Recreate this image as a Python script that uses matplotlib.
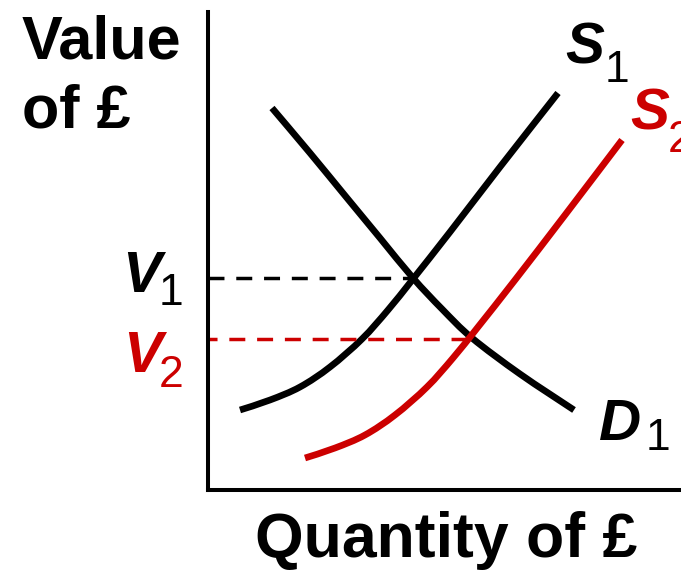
import matplotlib
matplotlib.use("Agg")
import matplotlib.pyplot as plt
from matplotlib.path import Path
from matplotlib.patches import PathPatch

plt.rcParams['font.family'] = ['Liberation Sans', 'DejaVu Sans']

W, H = 681, 574
# Curve points (x: quantity, y: value), axis units
d1_x = [64, 102, 139, 172, 205, 234, 264, 312, 366]
d1_y = [382, 337, 292, 252, 212, 181, 152, 116, 80]
s1_x = [32, 62, 92, 122, 154, 180, 205, 242, 292, 350]
s1_y = [80, 90, 103, 123, 151, 180, 211, 258, 323, 397]
s2_x = [97, 127, 157, 187, 219, 245, 270, 307, 357, 414]
s2_y = [32, 42, 55, 75, 103, 132, 163, 210, 275, 350]
v1 = 212
v2 = 151
v1_end = 205
v2_end = 262

RED = '#cc0000'

fig = plt.figure(figsize=(W / 100, H / 100), dpi=100)
ax = fig.add_axes([208 / W, (H - 490) / H, (W - 208) / W, (490 - 12) / H])
ax.set_xlim(0, W - 208)
ax.set_ylim(0, 490 - 12)
for s in ['top', 'right']:
    ax.spines[s].set_visible(False)
for s in ['left', 'bottom']:
    ax.spines[s].set_linewidth(2.9)
ax.set_xticks([])
ax.set_yticks([])


def smooth_curve(xs, ys, color, lw=4.8):
    """Draw a smooth curve through the points with cubic Bezier segments (Catmull-Rom)."""
    pts = list(zip(xs, ys))
    verts = [pts[0]]
    codes = [Path.MOVETO]
    n = len(pts)
    for i in range(n - 1):
        p0 = pts[i - 1] if i > 0 else pts[i]
        p1 = pts[i]
        p2 = pts[i + 1]
        p3 = pts[i + 2] if i + 2 < n else pts[i + 1]
        c1 = (p1[0] + (p2[0] - p0[0]) / 6, p1[1] + (p2[1] - p0[1]) / 6)
        c2 = (p2[0] - (p3[0] - p1[0]) / 6, p2[1] - (p3[1] - p1[1]) / 6)
        verts += [c1, c2, p2]
        codes += [Path.CURVE4] * 3
    patch = PathPatch(Path(verts, codes), facecolor='none', edgecolor=color, lw=lw,
                      capstyle='butt', joinstyle='round')
    ax.add_patch(patch)


smooth_curve(d1_x, d1_y, 'black')
smooth_curve(s1_x, s1_y, 'black')
smooth_curve(s2_x, s2_y, RED)

ax.plot([0, v1_end], [v1, v1], color='black', lw=2.5, linestyle=(0, (4.6, 3.4)), dash_capstyle='butt')
ax.plot([0, v2_end], [v2, v2], color=RED, lw=2.5, linestyle=(2, (4.6, 3.4)), dash_capstyle='butt')


def ftext(x, y, s, **kw):
    fig.text(x / W, 1 - y / H, s, **kw)


ftext(22, 128, "Value\nof £", fontsize=44, fontweight='bold', ha='left', va='baseline',
      linespacing=1.28, multialignment='left')
ftext(446, 557, "Quantity of £", fontsize=45, fontweight='bold', ha='center', va='baseline')

big = 42
sub = 32


def label(x, y, sx, sy, main, subs, color):
    ftext(x, y, main, fontsize=big, fontweight='bold', fontstyle='italic', color=color,
          ha='left', va='baseline')
    ftext(sx, sy, subs, fontsize=sub, color=color, ha='left', va='baseline')


label(122, 292, 159, 305, 'V', '1', 'black')
label(123, 372, 159, 387, 'V', '2', RED)
label(565, 63, 605, 82, 'S', '1', 'black')
label(630, 130, 668, 152, 'S', '2', RED)
label(599, 440, 646, 450, 'D', '1', 'black')

fig.savefig('out.png', dpi=100)
